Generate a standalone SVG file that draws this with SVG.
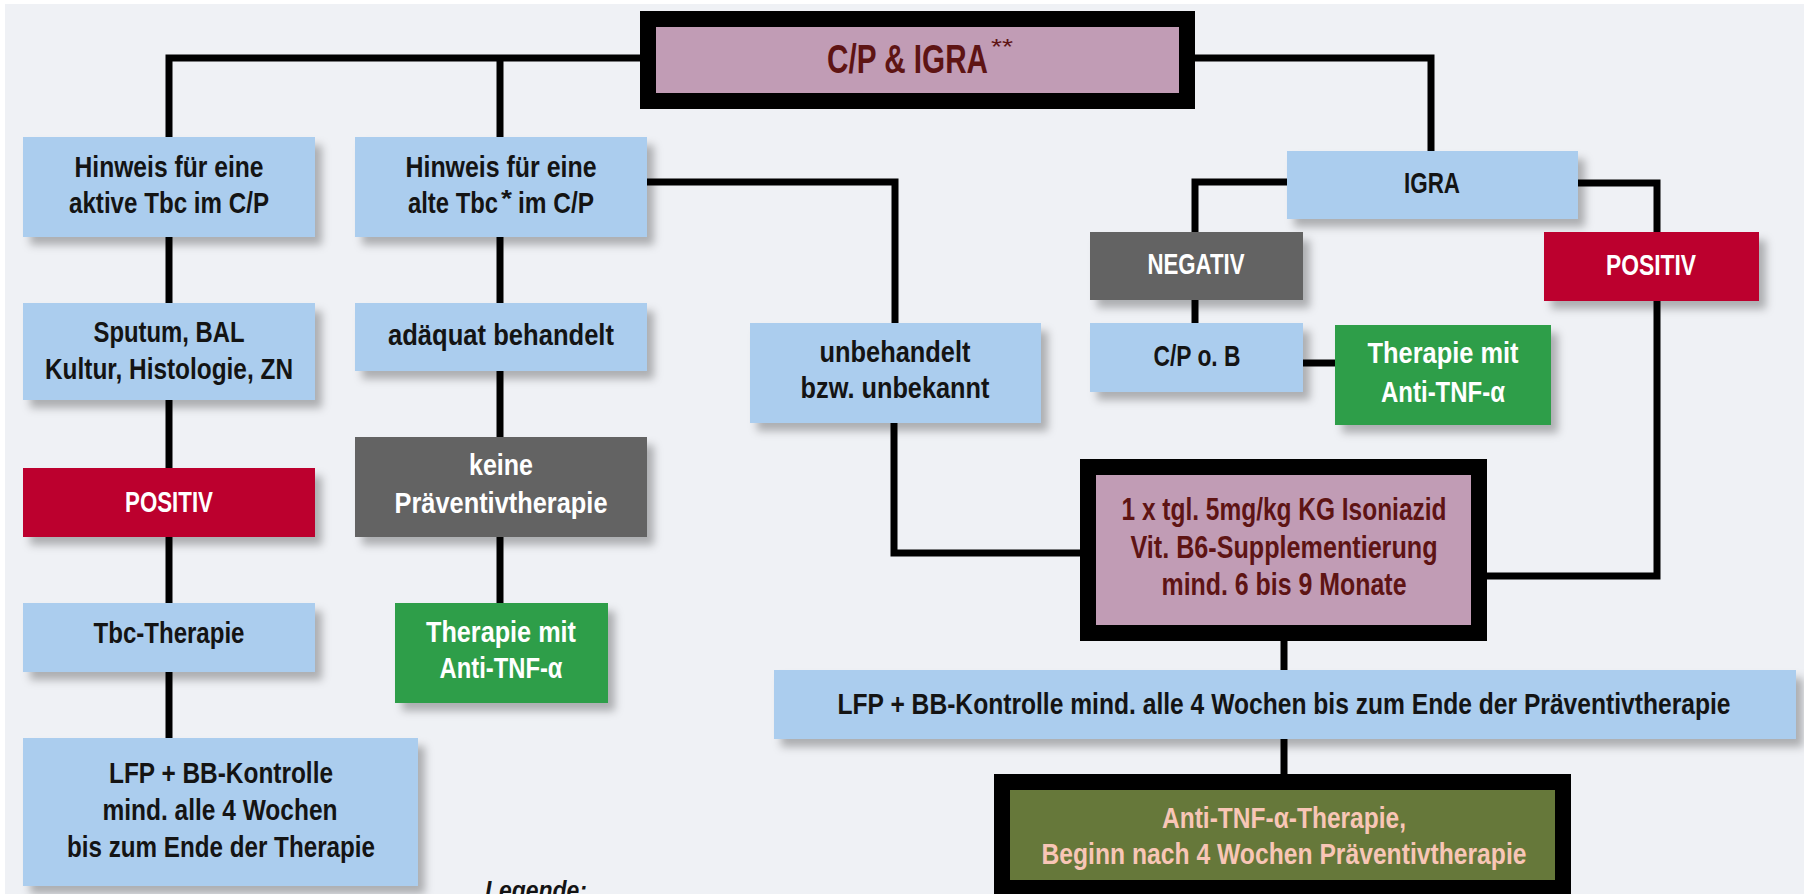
<svg xmlns="http://www.w3.org/2000/svg" width="1804" height="894" viewBox="0 0 1804 894">
<defs>
<filter id="sh" x="-10%" y="-10%" width="130%" height="140%">
<feDropShadow dx="7" dy="8" stdDeviation="4" flood-color="#000" flood-opacity="0.28"/>
</filter>
<style>
text{font-family:"Liberation Sans Narrow","Liberation Sans",Arial,sans-serif;font-weight:bold;font-size:30px;text-anchor:middle}
.d{fill:#141414}
.w{fill:#ffffff}
.r{fill:#5e1414}
.p{fill:#f8c6b6}
.blue{fill:#abcdee;filter:url(#sh)}
.red{fill:#bc002d;filter:url(#sh)}
.gray{fill:#646464;filter:url(#sh)}
.green{fill:#2f9e4a;filter:url(#sh)}
.c{fill:none;stroke:#000;stroke-width:7;stroke-linejoin:miter;stroke-linecap:butt}
.s{text-anchor:start}
.big{font-size:41px}
.sup{font-size:22px;font-weight:normal}
.sup2{font-size:24px}
.iso{font-size:32px}
.leg{font-size:26px;font-style:italic}
</style>
</defs>
<rect x="0" y="0" width="1804" height="894" fill="#ffffff"/>
<rect x="5" y="4" width="1799" height="890" fill="#eff1f5"/>

<g id="connectors" class="c">
<path d="M169,137 V58 H640"/>
<path d="M500,58 V137"/>
<path d="M1195,58 H1431 V151"/>
<path d="M169,237 V303"/>
<path d="M169,400 V468"/>
<path d="M169,537 V603"/>
<path d="M169,672 V738"/>
<path d="M500,237 V303"/>
<path d="M500,371 V437"/>
<path d="M500,537 V603"/>
<path d="M647,182 H895 V323"/>
<path d="M894,423 V553 H1080"/>
<path d="M1287,182 H1195 V232"/>
<path d="M1195,300 V323"/>
<path d="M1303,363 H1335"/>
<path d="M1578,183 H1657 V232"/>
<path d="M1657,301 V576 H1487"/>
<path d="M1284,641 V670"/>
<path d="M1284,739 V774"/>
</g>

<g id="n-title">
<rect x="648" y="19" width="539" height="82" fill="#c19cb5" stroke="#000" stroke-width="16"/>
<text class="r s big" x="827" y="73" textLength="161" lengthAdjust="spacingAndGlyphs">C/P &amp; IGRA</text>
<text class="r s sup" x="991" y="54" textLength="22" lengthAdjust="spacingAndGlyphs">**</text>
</g>

<g id="n-aktiv">
<rect class="blue" x="23" y="137" width="292" height="100"/>
<text class="d" x="169" y="177" textLength="189" lengthAdjust="spacingAndGlyphs">Hinweis für eine</text>
<text class="d" x="169" y="213" textLength="200" lengthAdjust="spacingAndGlyphs">aktive Tbc im C/P</text>
</g>

<g id="n-alt">
<rect class="blue" x="355" y="137" width="292" height="100"/>
<text class="d" x="501" y="177" textLength="191" lengthAdjust="spacingAndGlyphs">Hinweis für eine</text>
<text class="d s" x="408" y="213" textLength="90" lengthAdjust="spacingAndGlyphs">alte Tbc</text>
<text class="d s sup2" x="501" y="207" textLength="11" lengthAdjust="spacingAndGlyphs">*</text>
<text class="d s" x="518" y="213" textLength="76" lengthAdjust="spacingAndGlyphs">im C/P</text>
</g>

<g id="n-sputum">
<rect class="blue" x="23" y="303" width="292" height="97"/>
<text class="d" x="169" y="342" textLength="151" lengthAdjust="spacingAndGlyphs">Sputum, BAL</text>
<text class="d" x="169" y="379" textLength="248" lengthAdjust="spacingAndGlyphs">Kultur, Histologie, ZN</text>
</g>

<g id="n-adaequat">
<rect class="blue" x="355" y="303" width="292" height="68"/>
<text class="d" x="501" y="345" textLength="226" lengthAdjust="spacingAndGlyphs">adäquat behandelt</text>
</g>

<g id="n-positiv-left">
<rect class="red" x="23" y="468" width="292" height="69"/>
<text class="w" x="169" y="512" textLength="88" lengthAdjust="spacingAndGlyphs">POSITIV</text>
</g>

<g id="n-keine">
<rect class="gray" x="355" y="437" width="292" height="100"/>
<text class="w" x="501" y="475" textLength="64" lengthAdjust="spacingAndGlyphs">keine</text>
<text class="w" x="501" y="513" textLength="213" lengthAdjust="spacingAndGlyphs">Präventivtherapie</text>
</g>

<g id="n-tbc-therapie">
<rect class="blue" x="23" y="603" width="292" height="69"/>
<text class="d" x="169" y="643" textLength="151" lengthAdjust="spacingAndGlyphs">Tbc-Therapie</text>
</g>

<g id="n-anti-left">
<rect class="green" x="395" y="603" width="213" height="100"/>
<text class="w" x="501" y="642" textLength="150" lengthAdjust="spacingAndGlyphs">Therapie mit</text>
<text class="w" x="501" y="678" textLength="123" lengthAdjust="spacingAndGlyphs">Anti-TNF-α</text>
</g>

<g id="n-lfp-left">
<rect class="blue" x="23" y="738" width="395" height="148"/>
<text class="d" x="221" y="783" textLength="224" lengthAdjust="spacingAndGlyphs">LFP + BB-Kontrolle</text>
<text class="d" x="220" y="820" textLength="235" lengthAdjust="spacingAndGlyphs">mind. alle 4 Wochen</text>
<text class="d" x="221" y="857" textLength="308" lengthAdjust="spacingAndGlyphs">bis zum Ende der Therapie</text>
</g>

<g id="n-unbehandelt">
<rect class="blue" x="750" y="323" width="291" height="100"/>
<text class="d" x="895" y="362" textLength="151" lengthAdjust="spacingAndGlyphs">unbehandelt</text>
<text class="d" x="895" y="398" textLength="189" lengthAdjust="spacingAndGlyphs">bzw. unbekannt</text>
</g>

<g id="n-igra">
<rect class="blue" x="1287" y="151" width="291" height="68"/>
<text class="d" x="1432" y="193" textLength="56" lengthAdjust="spacingAndGlyphs">IGRA</text>
</g>

<g id="n-negativ">
<rect class="gray" x="1090" y="232" width="213" height="68"/>
<text class="w" x="1196" y="274" textLength="97" lengthAdjust="spacingAndGlyphs">NEGATIV</text>
</g>

<g id="n-cpob">
<rect class="blue" x="1090" y="323" width="213" height="69"/>
<text class="d" x="1197" y="366" textLength="87" lengthAdjust="spacingAndGlyphs">C/P o. B</text>
</g>

<g id="n-anti-right">
<rect class="green" x="1335" y="325" width="216" height="100"/>
<text class="w" x="1443" y="363" textLength="151" lengthAdjust="spacingAndGlyphs">Therapie mit</text>
<text class="w" x="1443" y="402" textLength="124" lengthAdjust="spacingAndGlyphs">Anti-TNF-α</text>
</g>

<g id="n-positiv-right">
<rect class="red" x="1544" y="232" width="215" height="69"/>
<text class="w" x="1651" y="275" textLength="90" lengthAdjust="spacingAndGlyphs">POSITIV</text>
</g>

<g id="n-isoniazid">
<rect x="1088" y="467" width="391" height="166" fill="#c19cb5" stroke="#000" stroke-width="16"/>
<text class="r iso" x="1284" y="520" textLength="325" lengthAdjust="spacingAndGlyphs">1 x tgl. 5mg/kg KG Isoniazid</text>
<text class="r iso" x="1284" y="558" textLength="307" lengthAdjust="spacingAndGlyphs">Vit. B6-Supplementierung</text>
<text class="r iso" x="1284" y="595" textLength="245" lengthAdjust="spacingAndGlyphs">mind. 6 bis 9 Monate</text>
</g>

<g id="n-lfp-right">
<rect class="blue" x="774" y="670" width="1022" height="69"/>
<text class="d" x="1284" y="714" textLength="893" lengthAdjust="spacingAndGlyphs">LFP + BB-Kontrolle mind. alle 4 Wochen bis zum Ende der Präventivtherapie</text>
</g>

<g id="n-final">
<rect x="1002" y="782" width="561" height="106" fill="#66783a" stroke="#000" stroke-width="16"/>
<text class="p" x="1284" y="828" textLength="244" lengthAdjust="spacingAndGlyphs">Anti-TNF-α-Therapie,</text>
<text class="p" x="1284" y="864" textLength="485" lengthAdjust="spacingAndGlyphs">Beginn nach 4 Wochen Präventivtherapie</text>
</g>

<g id="legend">
<text class="d s leg" x="485" y="899" textLength="102" lengthAdjust="spacingAndGlyphs">Legende:</text>
</g>
</svg>
